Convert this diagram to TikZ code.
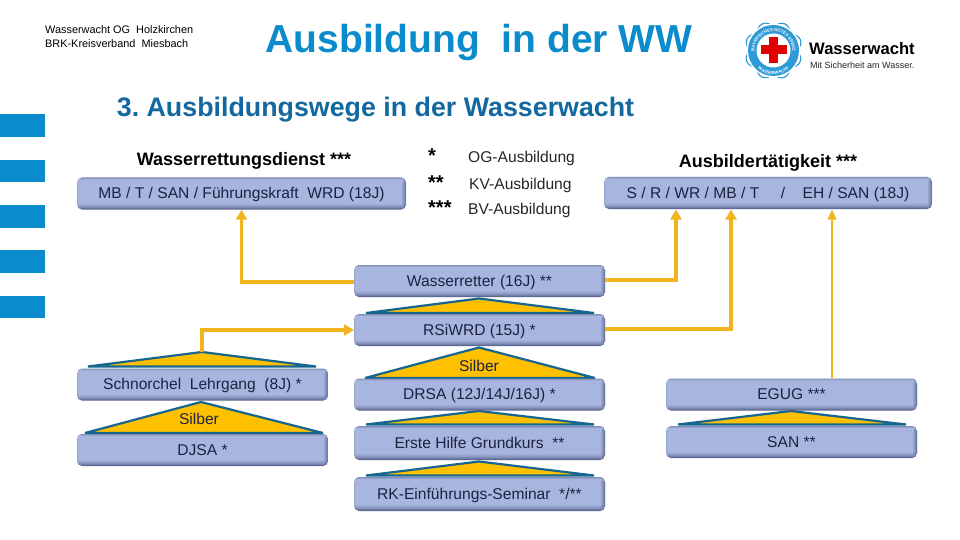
\documentclass[tikz,border=0pt]{standalone}
\usepackage{fontspec}
\setmainfont{Liberation Sans}
\frenchspacing
\usetikzlibrary{arrows.meta,decorations.text,calc}
\definecolor{wwblue}{HTML}{0A8BCB}
\definecolor{logoblue}{HTML}{2E9BD6}
\definecolor{subblue}{HTML}{12689F}
\definecolor{triedge}{HTML}{17668F}
\definecolor{trifill}{HTML}{FFC000}
\definecolor{conn}{HTML}{F2B41E}
\definecolor{boxtext}{HTML}{1B2340}
\definecolor{boxlight}{HTML}{A8B6DF}
\definecolor{boxdark}{HTML}{47537F}
\pgfdeclareverticalshading{boxshade}{100bp}{
  color(0bp)=(boxdark);color(25bp)=(boxdark);color(27bp)=(boxdark!70!boxlight);color(30bp)=(boxdark!35!boxlight);color(35bp)=(boxlight);
  color(72bp)=(boxlight);color(75bp)=(boxlight!60!boxdark);color(100bp)=(boxlight!60!boxdark)}
\tikzset{
  lehrbox/.style={rounded corners=5pt,inner sep=0pt,minimum width=#1,minimum height=32pt,
    shading=boxshade,text=boxtext,font=\fontsize{15.6}{17}\selectfont,text height=10.5pt,text depth=0pt,
    path picture={
      \fill[boxdark,opacity=.18] ([xshift=-4pt]path picture bounding box.north east) rectangle (path picture bounding box.south east);
      \fill[boxdark,opacity=.3] ([xshift=-2.5pt]path picture bounding box.north east) rectangle (path picture bounding box.south east);
      \fill[boxdark,opacity=.3] ([xshift=-1pt]path picture bounding box.north east) rectangle (path picture bounding box.south east);
      \fill[boxdark,opacity=.15] (path picture bounding box.north west) rectangle ([xshift=1pt]path picture bounding box.south west);}},
  lehrbox/.default=251pt,
  tri/.style={draw=triedge,line width=2.2pt,fill=trifill,line join=miter,miter limit=2},
  conline/.style={draw=conn,line width=3.4pt,-{Triangle[length=10pt,width=11pt]}},
  stripe/.style={fill=wwblue,draw=none},
  heading/.style={font=\bfseries\fontsize{18}{20}\selectfont,text=black,inner sep=0pt},
  legstar/.style={font=\bfseries\fontsize{20}{20}\selectfont,inner sep=0pt,anchor=west},
  legtext/.style={font=\fontsize{15.6}{17}\selectfont,text=black!85,inner sep=0pt,anchor=west},
  small/.style={font=\fontsize{10.9}{12}\selectfont,text=black,inner sep=0pt,anchor=west},
  trilabel/.style={font=\fontsize{15.6}{17}\selectfont,text=boxtext,inner sep=0pt}
}
\begin{document}
\begin{tikzpicture}[x=1pt,y=-1pt]
\useasboundingbox (0,0) rectangle (960,540);
\fill[white] (0,0) rectangle (960,540);
% stripes
\fill[stripe] (0,114) rectangle (45,137);
\fill[stripe] (0,160) rectangle (45,182);
\fill[stripe] (0,205) rectangle (45,228);
\fill[stripe] (0,250) rectangle (45,273);
\fill[stripe] (0,296) rectangle (45,318);
% header
\node[small] (h1) at (45,30) {Wasserwacht OG\ \ Holzkirchen};
\node[small] (h2) at (45,44) {BRK-Kreisverband\ \ Miesbach};
\node[inner sep=0pt,text=wwblue,font=\bfseries\fontsize{39}{42}\selectfont] (title) at (479,43) {Ausbildung\ \ in\ der\ WW};
\node[inner sep=0pt,text=subblue,font=\bfseries\fontsize{26.8}{28}\selectfont] (sub) at (375.5,110) {3. Ausbildungswege in der Wasserwacht};
% logo
\foreach \a in {0,45,...,315}{\fill[logoblue] (773.5,50.5)++(\a+22:21pt) circle[radius=8.5pt];}
\foreach \a in {0,45,...,315}{\fill[white] (773.5,50.5)++(\a+22:21pt) circle[radius=7.2pt];}
\fill[white] (773.5,50.5) circle[radius=27pt];
\fill[logoblue] (773.5,50.5) circle[radius=25.5pt];
\fill[white] (773.5,50.5) circle[radius=17pt];
\path[decorate,decoration={text along path,text align=center,text color=white,
  text={|\bfseries\fontsize{4.2}{4.2}\selectfont|BAYERISCHES ROTES KREUZ}}]
  (754.5,50.5) arc[start angle=180,end angle=0,radius=19pt];
\path[decorate,decoration={text along path,text align=center,text color=white,
  text={|\bfseries\fontsize{4.2}{4.2}\selectfont|WASSERWACHT}}]
  (749.5,50.5) arc[start angle=180,end angle=360,radius=24pt];
\fill[red!88!black] (769,37) rectangle (778,63);
\fill[red!88!black] (760.5,45.5) rectangle (787,54.5);
\node[inner sep=0pt,anchor=west,text=black,font=\bfseries\fontsize{16.6}{18}\selectfont] (ww) at (809,49) {Wasserwacht};
\node[inner sep=0pt,anchor=west,text=black!85,font=\fontsize{9}{10}\selectfont] (ms) at (810,65) {Mit Sicherheit am Wasser.};
% headings and legend
\node[heading] (hl) at (244,161) {Wasserrettungsdienst ***};
\node[heading] (hr) at (768,163) {Ausbildertätigkeit ***};
\node[legstar] (s1) at (428,156) {*};
\node[legstar] (s2) at (428,183) {**};
\node[legstar] (s3) at (428,208) {***};
\node[legtext] (l1) at (468,158) {OG-Ausbildung};
\node[legtext] (l2) at (469,185) {KV-Ausbildung};
\node[legtext] (l3) at (468,210) {BV-Ausbildung};
% triangles
\draw[tri] (366,313) -- (479,298.5) -- (594,313) -- cycle;
\draw[tri] (365,378) -- (479,347.5) -- (595,378) -- cycle;
\draw[tri] (366,424.5) -- (479,411) -- (594,424.5) -- cycle;
\draw[tri] (366,475.5) -- (479,461.5) -- (594,475.5) -- cycle;
\draw[tri] (88,366.5) -- (202,352) -- (316,366.5) -- cycle;
\draw[tri] (85,433) -- (201,402) -- (323,433) -- cycle;
\draw[tri] (678,424.5) -- (791,411) -- (906,424.5) -- cycle;
\node[trilabel] (sil1) at (479,366) {Silber};
\node[trilabel] (sil2) at (199,419) {Silber};
% boxes
\node[lehrbox=329pt] (wrd) at (241.5,193.5) {MB / T / SAN / Führungskraft\ \ WRD (18J)};
\node[lehrbox=328pt] (aus) at (768,193) {S / R / WR / MB / T\ \ \ \ \ /\ \ \ \ EH / SAN (18J)};
\node[lehrbox] (wr) at (479.5,281) {Wasserretter (16J) **};
\node[lehrbox] (rs) at (479.5,330) {RSiWRD (15J) *};
\node[lehrbox] (dr) at (479.5,394.5) {DRSA (12J/14J/16J) *};
\node[lehrbox,minimum height=34pt] (eh) at (479.5,443) {Erste Hilfe Grundkurs\ \ **};
\node[lehrbox,minimum height=34pt] (rk) at (479.5,494) {RK-Einführungs-Seminar\ \ */**};
\node[lehrbox] (sc) at (202.5,384.5) {Schnorchel\ \ Lehrgang\ \ (8J) *};
\node[lehrbox] (dj) at (202.5,450) {DJSA *};
\node[lehrbox] (eg) at (791.5,394.5) {EGUG ***};
\node[lehrbox] (sa) at (791.5,442) {SAN **};
% connectors
\coordinate (a1) at (676,209.5);
\coordinate (a2) at (731,209.5);
\coordinate (a3) at (832,209.5);
\coordinate (e1) at (832,378);
\coordinate (wl) at (354,282);
\coordinate (wrr) at (605,280);
\coordinate (rr) at (605,329);
\coordinate (sctop) at (202,352);
\coordinate (rl) at (354,330);
\draw[conline] (wl) -| (wrd.south);
\draw[conline] (wrr) -| (a1);
\draw[conline] (rr) -| (a2);
\draw[conline,line width=2.3pt,-{Triangle[length=10pt,width=8.5pt]}] (e1) -- (a3);
\draw[conline] (sctop) |- (rl);
\end{tikzpicture}
\end{document}
